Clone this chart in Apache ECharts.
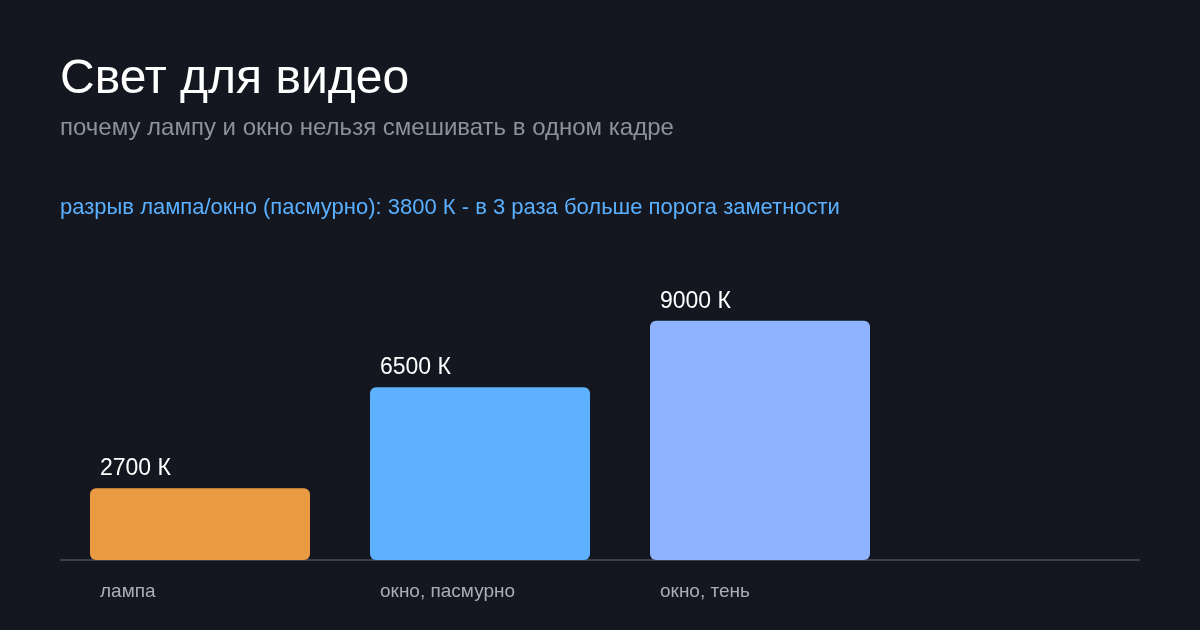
<!DOCTYPE html>
<html><head><meta charset="utf-8">
<script src="https://cdn.jsdelivr.net/npm/echarts@6/dist/echarts.min.js"></script>
<style>html,body{margin:0;background:#14171f}#c{width:1200px;height:630px}</style>
</head><body><div id="c"></div>
<script>
const categories = ['лампа', 'окно, пасмурно', 'окно, тень'];
const values = [2700, 6500, 9000];
const colors = ['#e99a42', '#5eb1ff', '#8fb3ff'];
const F = 'Liberation Sans, Arial, sans-serif';
const chart = echarts.init(document.getElementById('c'));
chart.setOption({
  backgroundColor: '#14171f',
  animation: false,
  graphic: [
    {type:'text', left:60, top:56, style:{text:'Свет для видео', fill:'#ffffff', font:'48px '+F}},
    {type:'text', left:60, top:116, style:{text:'почему лампу и окно нельзя смешивать в одном кадре', fill:'#8b929e', font:'24px '+F}},
    {type:'text', left:60, top:197, style:{text:'разрыв лампа/окно (пасмурно): 3800 К - в 3 раза больше порога заметности', fill:'#5ab0ff', font:'22px '+F}},
    {type:'line', shape:{x1:60, y1:560, x2:1140, y2:560}, style:{stroke:'#3a3f4a', lineWidth:2}}
  ],
  grid: {left:60, width:840, top:250, bottom:70},
  xAxis: {type:'category', data:categories, axisLine:{show:false}, axisTick:{show:false},
    axisLabel:{margin:22, formatter:v=>'{a|'+v+'}', rich:{a:{width:200, align:'left', color:'#a9aeb8', fontSize:19, fontFamily:F}}}},
  yAxis: {type:'value', min:0, max:11660, show:false, splitLine:{show:false}},
  series: [{
    type:'bar', barWidth:220,
    data: values.map((v,i)=>({value:v, itemStyle:{color:colors[i], borderRadius:[6,6,6,6]}})),
    label:{show:true, position:[10,-8], verticalAlign:'bottom', align:'left', formatter:p=>p.value+' К', color:'#ffffff', fontSize:23, fontFamily:F}
  }]
});
</script></body></html>
